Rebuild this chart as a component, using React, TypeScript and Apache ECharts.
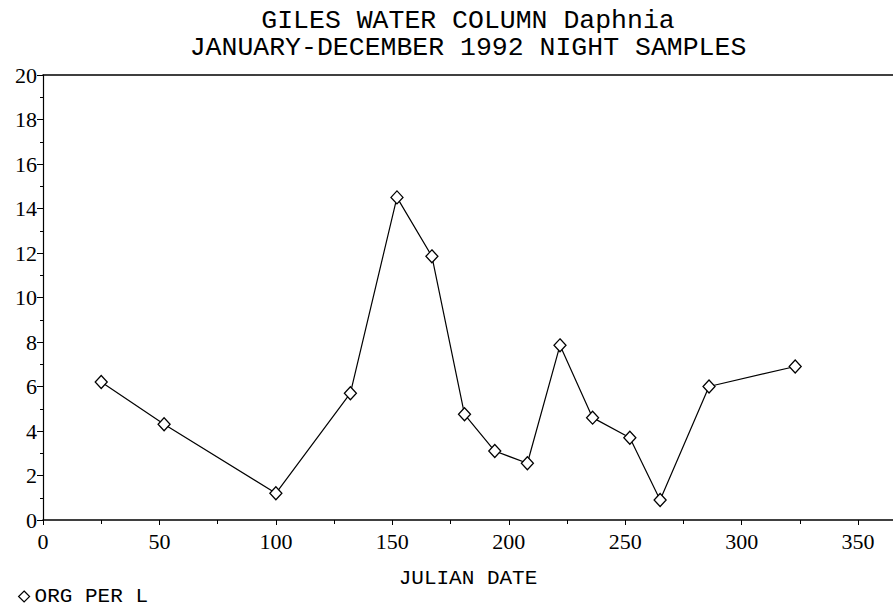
import React, { useEffect, useRef } from "react";
import * as echarts from "echarts";

const titleLines = ["GILES WATER COLUMN Daphnia", "JANUARY-DECEMBER 1992 NIGHT SAMPLES"];
const xAxisName = "JULIAN DATE";
const seriesName = "ORG PER L";
const julianDays = [25, 52, 100, 132, 152, 167, 181, 194, 208, 222, 236, 252, 265, 286, 323];
const orgPerL = [6.2, 4.3, 1.2, 5.7, 14.5, 11.85, 4.75, 3.1, 2.55, 7.85, 4.6, 3.7, 0.9, 6.0, 6.9];

const SERIF = "Liberation Serif";
const MONO = "Liberation Mono";

export default function App() {
  const ref = useRef<HTMLDivElement>(null);
  useEffect(() => {
    if (!ref.current) return;
    const chart = echarts.init(ref.current, null, { renderer: "svg" });
    const data = julianDays.map((d, i) => [d, orgPerL[i]]);
    const titleStyle = {
      fontFamily: MONO,
      fontWeight: "normal",
      fontSize: 26.5,
      color: "#000",
    };
    chart.setOption({
      animation: false,
      backgroundColor: "#fff",
      title: [
        {
          text: titleLines[0],
          left: 468,
          top: 7,
          padding: 0,
          textAlign: "center",
          textStyle: titleStyle,
        },
        {
          text: titleLines[1],
          left: 468,
          top: 34,
          padding: 0,
          textAlign: "center",
          textStyle: titleStyle,
        },
      ],
      legend: {
        data: [seriesName],
        left: 13,
        top: 581,
        icon: "diamond",
        itemWidth: 11,
        itemHeight: 11,
        itemGap: 6,
        itemStyle: { color: "#fff", borderColor: "#000", borderWidth: 1.2 },
        textStyle: { fontFamily: MONO, fontSize: 21, color: "#000" },
      },
      grid: { left: 43, right: 0, top: 75, bottom: 90, containLabel: false },
      xAxis: [
        {
          type: "value",
          min: 0,
          max: 365,
          interval: 50,
          name: xAxisName,
          nameLocation: "middle",
          nameGap: 48,
          nameTextStyle: { fontFamily: MONO, fontSize: 21, color: "#000" },
          axisLine: { show: true, lineStyle: { color: "#000", width: 1.5 } },
          axisTick: { show: true, length: 5, lineStyle: { color: "#000" } },
          minorTick: { show: true, splitNumber: 2, length: 4, lineStyle: { color: "#000" } },
          splitLine: { show: false },
          axisLabel: {
            fontFamily: SERIF,
            fontSize: 22,
            color: "#000",
            margin: 10,
            showMaxLabel: false,
          },
        },
        {
          type: "value",
          position: "top",
          min: 0,
          max: 365,
          axisLine: { show: true, lineStyle: { color: "#000", width: 1.5 } },
          axisTick: { show: false },
          axisLabel: { show: false },
          splitLine: { show: false },
        },
      ],
      yAxis: {
        type: "value",
        min: 0,
        max: 20,
        interval: 2,
        axisLine: { show: true, lineStyle: { color: "#000", width: 1.2 } },
        axisTick: { show: true, length: 6, lineStyle: { color: "#000" } },
        minorTick: { show: true, splitNumber: 2, length: 3, lineStyle: { color: "#000" } },
        splitLine: { show: false },
        axisLabel: { fontFamily: SERIF, fontSize: 22, color: "#000", margin: 6 },
      },
      series: [
        {
          name: seriesName,
          type: "line",
          xAxisIndex: 0,
          data,
          symbol: "diamond",
          symbolSize: [12, 13],
          itemStyle: { color: "#fff", borderColor: "#000", borderWidth: 1.3 },
          lineStyle: { color: "#000", width: 1.2 },
        },
      ],
    });
    return () => chart.dispose();
  }, []);
  return (
    <div
      ref={ref}
      style={{ position: "fixed", left: 0, top: 0, width: 893, height: 610 }}
    />
  );
}
